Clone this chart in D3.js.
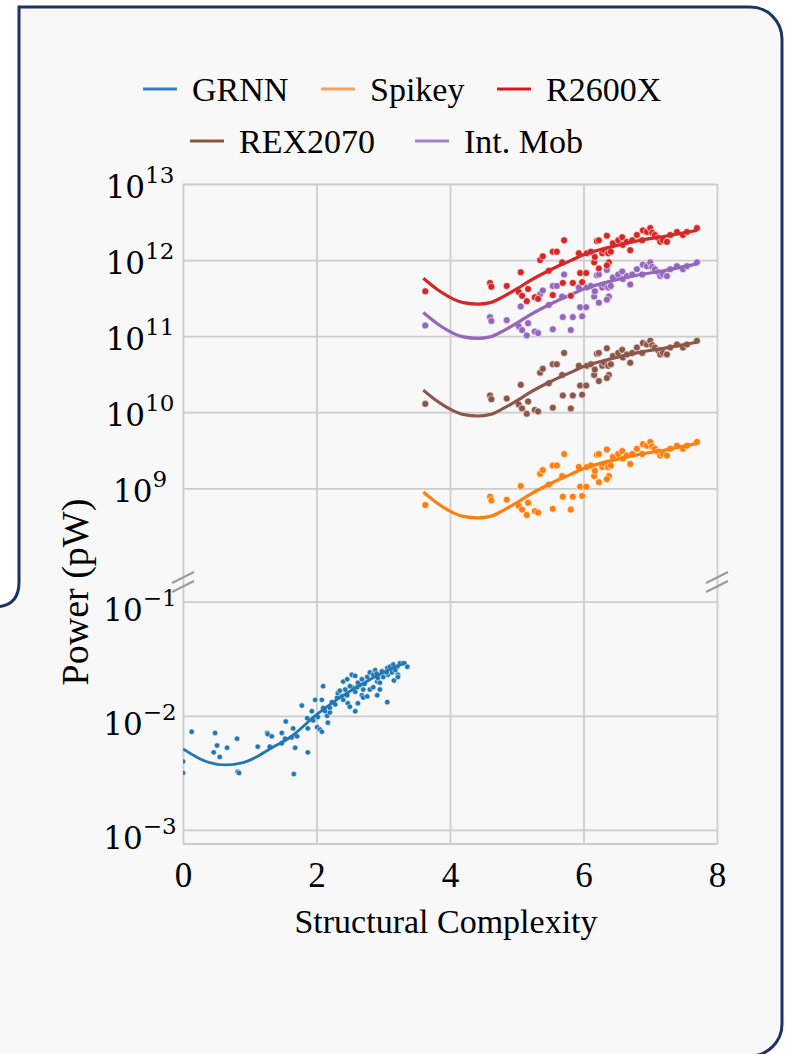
<!DOCTYPE html>
<html>
<head>
<meta charset="utf-8">
<script src="https://cdn.jsdelivr.net/npm/d3@7"></script>
<style>
body { margin: 0; background: #ffffff; }
svg { display: block; }
</style>
</head>
<body>
<div id="chart"></div>
<script>
// series
var names = ['GRNN', 'Spikey', 'R2600X', 'REX2070', 'Int. Mob'];
var colors = ['#1f77b4', '#ff7f0e', '#d62728', '#8c564b', '#9467bd'];
var legendColors = ['#3a7dc4', '#f4a15d', '#e3131c', '#8a5734', '#a383bf'];

var xTicks = [0, 2, 4, 6, 8];
var upperExp = [9, 10, 11, 12, 13];
var lowerExp = [-3, -2, -1];

// GRNN (lower panel) -- log10 of power in pW
var grnnX = [0.00,0.00,0.13,0.48,0.51,0.46,0.55,0.66,0.81,0.82,0.84,1.12,1.26,1.27,1.33,1.30,1.48,1.48,1.54,1.53,1.63,1.68,1.65,1.68,1.66,1.71,1.78,1.86,1.87,1.87,1.93,1.95,1.98,2.01,2.02,2.05,2.08,2.08,2.10,2.13,2.10,2.16,2.17,2.20,2.23,2.28,2.31,2.32,2.38,2.40,2.43,2.46,2.47,2.50,2.40,2.46,2.53,2.58,2.58,2.53,2.58,2.61,2.65,2.68,2.70,2.62,2.70,2.76,2.68,2.76,2.80,2.85,2.88,2.80,2.85,2.91,2.92,2.95,3.00,2.91,2.95,3.06,2.98,3.06,3.10,3.15,3.21,3.25,3.30,3.36,3.07,3.13,3.22,3.16,3.22,2.20,2.35,2.90,3.05,3.18,2.62,2.72,2.50];
var grnnY = [-2.40,-2.50,-2.14,-2.15,-2.26,-2.32,-2.36,-2.28,-2.20,-2.49,-2.50,-2.27,-2.15,-2.16,-2.18,-2.27,-2.15,-2.24,-2.05,-2.20,-2.19,-2.17,-2.11,-2.28,-2.51,-2.18,-1.91,-2.02,-2.11,-2.32,-1.96,-2.04,-1.86,-2.10,-2.01,-2.12,-2.14,-1.86,-1.93,-1.96,-1.74,-2.00,-2.06,-1.97,-1.88,-1.90,-1.84,-1.80,-1.83,-1.86,-1.77,-1.82,-1.89,-1.92,-1.70,-1.68,-1.64,-1.65,-1.96,-1.75,-1.79,-1.75,-1.73,-1.82,-1.77,-1.89,-1.84,-1.83,-1.68,-1.66,-1.62,-1.64,-1.60,-1.77,-1.75,-1.70,-1.67,-1.71,-1.66,-1.82,-1.77,-1.88,-1.61,-1.58,-1.57,-1.55,-1.57,-1.54,-1.54,-1.57,-1.64,-1.62,-1.64,-1.69,-1.66,-1.93,-1.78,-1.63,-1.62,-1.60,-1.71,-1.72,-1.74];
var grnnFitX = [0, 0.2, 0.4, 0.63, 0.9, 1.1, 1.3, 1.6, 2.0, 2.3, 2.6, 3.0, 3.35];
var grnnFitY = [-2.29, -2.36, -2.41, -2.43, -2.41, -2.36, -2.29, -2.19, -1.99, -1.86, -1.75, -1.62, -1.53];

// upper panel, shared x positions
var upX = [3.63,4.60,4.62,4.85,5.06,5.03,5.08,5.15,5.17,5.27,5.32,5.35,5.39,5.48,5.54,5.60,5.54,5.68,5.71,5.69,5.81,5.84,5.93,5.95,5.98,6.04,6.05,6.11,6.16,6.17,6.20,6.23,6.35,6.23,6.28,6.31,6.37,6.41,6.38,6.35,6.44,6.52,6.58,6.59,6.65,6.70,6.73,6.80,6.88,6.89,6.95,7.00,7.03,7.07,7.12,7.15,7.19,7.25,7.30,7.40,7.49,7.55,7.70];
var r2600xY = [11.59,11.70,11.65,11.66,11.84,11.58,11.53,11.46,11.62,11.51,11.49,12.00,12.05,11.86,12.11,12.11,11.54,11.97,12.26,11.70,11.53,11.70,12.09,11.83,11.71,11.83,12.09,12.11,11.97,12.04,12.25,12.26,12.32,11.89,12.09,12.13,12.09,12.11,11.97,11.93,12.22,12.26,12.30,12.20,12.24,12.13,12.26,12.33,12.26,12.39,12.37,12.42,12.36,12.33,12.29,12.24,12.26,12.24,12.33,12.37,12.33,12.37,12.42];
var intMobY = [11.14,11.25,11.20,11.21,11.39,11.13,11.08,11.01,11.17,11.06,11.04,11.55,11.60,11.41,11.66,11.66,11.09,11.52,11.81,11.25,11.08,11.25,11.64,11.38,11.26,11.38,11.64,11.66,11.52,11.59,11.80,11.81,11.87,11.44,11.64,11.68,11.64,11.66,11.52,11.48,11.77,11.81,11.85,11.75,11.79,11.68,11.81,11.88,11.81,11.94,11.92,11.97,11.91,11.88,11.84,11.79,11.81,11.79,11.88,11.92,11.88,11.92,11.97];
var rex2070Y = [10.11,10.22,10.17,10.18,10.36,10.10,10.05,9.98,10.14,10.03,10.01,10.52,10.57,10.38,10.63,10.63,10.06,10.49,10.78,10.22,10.05,10.22,10.61,10.35,10.23,10.35,10.61,10.63,10.49,10.56,10.77,10.78,10.84,10.41,10.61,10.65,10.61,10.63,10.49,10.45,10.74,10.78,10.82,10.72,10.76,10.65,10.78,10.85,10.78,10.91,10.89,10.94,10.88,10.85,10.81,10.76,10.78,10.76,10.85,10.89,10.85,10.89,10.94];
var spikeyY = [8.78,8.89,8.84,8.85,9.03,8.77,8.72,8.65,8.81,8.70,8.68,9.19,9.24,9.05,9.30,9.30,8.73,9.16,9.45,8.89,8.72,8.89,9.28,9.02,8.90,9.02,9.28,9.30,9.16,9.23,9.44,9.45,9.51,9.08,9.28,9.32,9.28,9.30,9.16,9.12,9.41,9.45,9.49,9.39,9.43,9.32,9.45,9.52,9.45,9.58,9.56,9.61,9.55,9.52,9.48,9.43,9.45,9.43,9.52,9.56,9.52,9.56,9.61];

var fitX = [3.6, 3.8, 4.0, 4.2, 4.42, 4.6, 4.8, 5.0, 5.2, 5.5, 5.8, 6.0, 6.4, 6.8, 7.2, 7.7];
var r2600xFit = [11.76,11.62,11.51,11.44,11.42,11.44,11.52,11.62,11.73,11.87,11.99,12.07,12.17,12.25,12.31,12.39];
var intMobFit = [11.31,11.17,11.06,10.99,10.97,10.99,11.07,11.17,11.28,11.42,11.54,11.62,11.72,11.80,11.86,11.95];
var rex2070Fit = [10.29,10.15,10.04,9.97,9.95,9.97,10.05,10.15,10.26,10.40,10.52,10.60,10.70,10.78,10.84,10.92];
var spikeyFit = [8.95,8.81,8.70,8.63,8.61,8.63,8.71,8.81,8.92,9.06,9.18,9.26,9.36,9.44,9.50,9.59];

var W = 785, H = 1054;
var left = 183, right = 717;

var svg = d3.select('#chart').append('svg')
    .attr('width', W)
    .attr('height', H)
    .style('font-family', '"Liberation Serif", "Times New Roman", serif');

// panel background + border
svg.append('path')
    .attr('d', 'M19,7 L750,7 A32,32 0 0 1 782,39 L782,1024 A32,32 0 0 1 750,1056 L-6,1056 L-6,607 Q19,607 19,582 Z')
    .attr('fill', '#f8f8f8');
svg.append('path')
    .attr('d', 'M-6,607 Q19,607 19,582 L19,7 L750,7 A32,32 0 0 1 782,39 L782,1024 A32,32 0 0 1 750,1056')
    .attr('fill', 'none')
    .attr('stroke', '#1d3461')
    .attr('stroke-width', 3);

var x = d3.scaleLinear().domain([0, 8]).range([left, right]);
var yUp = d3.scaleLog().domain([Math.pow(10, 7.86), 1e13]).range([575, 184]);
var yLo = d3.scaleLog().domain([Math.pow(10, -3.123), Math.pow(10, -0.81)]).range([844, 580]);

var gridColor = '#cccccc';

// vertical grid lines via axis
svg.append('g')
    .attr('transform', 'translate(0,844)')
    .call(d3.axisBottom(x).tickValues(xTicks).tickSize(-660).tickFormat(''))
    .call(g => g.select('.domain').remove())
    .call(g => g.selectAll('line').attr('stroke', gridColor).attr('stroke-width', 1.8));

// horizontal grid lines
svg.append('g')
    .attr('transform', `translate(${left},0)`)
    .call(d3.axisLeft(yUp).tickValues(upperExp.map(e => Math.pow(10, e))).tickSize(-(right - left)).tickFormat(''))
    .call(g => g.select('.domain').remove())
    .call(g => g.selectAll('line').attr('stroke', gridColor).attr('stroke-width', 1.8));
svg.append('g')
    .attr('transform', `translate(${left},0)`)
    .call(d3.axisLeft(yLo).tickValues(lowerExp.map(e => Math.pow(10, e))).tickSize(-(right - left)).tickFormat(''))
    .call(g => g.select('.domain').remove())
    .call(g => g.selectAll('line').attr('stroke', gridColor).attr('stroke-width', 1.8));

// frame
svg.append('line').attr('x1', left).attr('x2', right).attr('y1', 844).attr('y2', 844)
    .attr('stroke', gridColor).attr('stroke-width', 2.2);

// break marks
[left, right].forEach(function (bx) {
    [0, 9].forEach(function (off) {
        svg.append('line')
            .attr('x1', bx - 11).attr('y1', 583 + off)
            .attr('x2', bx + 11).attr('y2', 572 + off)
            .attr('stroke', '#9a9a9a').attr('stroke-width', 2);
    });
});

// x tick labels
svg.append('g')
    .attr('transform', 'translate(0,844)')
    .call(d3.axisBottom(x).tickValues(xTicks).tickSize(0).tickPadding(18).tickFormat(d3.format('d')))
    .call(g => g.select('.domain').remove())
    .call(g => g.selectAll('text')
        .attr('font-size', 35)
        .attr('font-family', '"Liberation Serif", serif')
        .attr('fill', '#000'));

// y tick labels with superscripts
function powLabel(scale, e, dy) {
    var t = svg.append('text')
        .attr('x', 140)
        .attr('y', scale(Math.pow(10, e)) + dy)
        .attr('text-anchor', 'middle')
        .attr('font-family', '"DejaVu Serif", "Liberation Serif", serif')
        .attr('font-size', 31)
        .attr('fill', '#000');
    t.append('tspan').text('10');
    t.append('tspan').attr('dy', -15).attr('font-size', 23)
        .text(e < 0 ? '\u2212' + Math.abs(e) : String(e));
}
upperExp.forEach(e => powLabel(yUp, e, 14));
lowerExp.forEach(e => powLabel(yLo, e, 19));

// axis titles
svg.append('text')
    .attr('x', 446).attr('y', 933)
    .attr('text-anchor', 'middle')
    .attr('font-size', 34)
    .text('Structural Complexity');
svg.append('text')
    .attr('transform', 'translate(88,592) rotate(-90)')
    .attr('text-anchor', 'middle')
    .attr('font-size', 38)
    .text('Power (pW)');

// clip for plotting area
svg.append('clipPath').attr('id', 'clipLo')
    .append('rect').attr('x', left).attr('y', 580).attr('width', right - left).attr('height', 264);

var lineUp = d3.line().x(d => x(d[0])).y(d => yUp(Math.pow(10, d[1]))).curve(d3.curveMonotoneX);
var lineLo = d3.line().x(d => x(d[0])).y(d => yLo(Math.pow(10, d[1]))).curve(d3.curveMonotoneX);

var upperSeries = [
    { ys: spikeyY, fit: spikeyFit, color: colors[1] },
    { ys: rex2070Y, fit: rex2070Fit, color: colors[3] },
    { ys: intMobY, fit: intMobFit, color: colors[4] },
    { ys: r2600xY, fit: r2600xFit, color: colors[2] }
];

upperSeries.forEach(function (s) {
    svg.append('g').selectAll('circle')
        .data(d3.zip(upX, s.ys))
        .join('circle')
        .attr('cx', d => x(d[0]))
        .attr('cy', d => yUp(Math.pow(10, d[1])))
        .attr('r', 3.5)
        .attr('fill', s.color)
        .attr('stroke', '#ffffff')
        .attr('stroke-width', 0.6);
    svg.append('path')
        .datum(d3.zip(fitX, s.fit))
        .attr('d', lineUp)
        .attr('fill', 'none')
        .attr('stroke', s.color)
        .attr('stroke-width', 3.2);
});

var lo = svg.append('g').attr('clip-path', 'url(#clipLo)');
lo.selectAll('circle')
    .data(d3.zip(grnnX, grnnY))
    .join('circle')
    .attr('cx', d => x(d[0]))
    .attr('cy', d => yLo(Math.pow(10, d[1])))
    .attr('r', 2.7)
    .attr('fill', colors[0])
    .attr('stroke', '#ffffff')
    .attr('stroke-width', 0.5);
lo.append('path')
    .datum(d3.zip(grnnFitX, grnnFitY))
    .attr('d', lineLo)
    .attr('fill', 'none')
    .attr('stroke', colors[0])
    .attr('stroke-width', 2.8);

// legend
var legendPos = [
    { lx: 143, y: 89 }, { lx: 321, y: 89 }, { lx: 497, y: 89 },
    { lx: 190, y: 141 }, { lx: 415, y: 141 }
];
names.forEach(function (n, i) {
    var p = legendPos[i];
    svg.append('line')
        .attr('x1', p.lx).attr('x2', p.lx + 34)
        .attr('y1', p.y).attr('y2', p.y)
        .attr('stroke', legendColors[i]).attr('stroke-width', 3);
    svg.append('text')
        .attr('x', p.lx + 49).attr('y', p.y + 12)
        .attr('font-size', 34)
        .attr('fill', '#000')
        .text(n);
});
</script>
</body>
</html>
